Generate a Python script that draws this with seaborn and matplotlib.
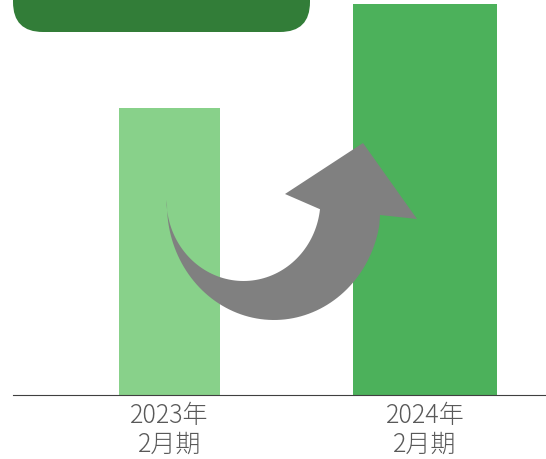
import numpy as np
import pandas as pd
import matplotlib
matplotlib.use("Agg")
import matplotlib.pyplot as plt
from matplotlib.path import Path
from matplotlib.patches import PathPatch, FancyBboxPatch
import seaborn as sns

# ---- data ----
categories = ["2023年\n2月期", "2024年\n2月期"]
values = [73.5, 100.0]

# ---- style ----
bar_colors = ["#88D18A", "#4CB15B"]
bar_widths = [0.395, 0.564]
box_color = "#327D38"
arrow_color = "#808080"
text_color = "#595959"

sns.set_theme(style="white")
plt.rcParams["font.family"] = ["Noto Sans CJK JP", "DejaVu Sans"]

W, H = 546, 459
fig = plt.figure(figsize=(W / 100, H / 100), dpi=100)
ax = fig.add_axes([0, 64 / H, 1, 395 / H])

df = pd.DataFrame({"period": categories, "value": values})
sns.barplot(data=df, x="period", y="value", hue="period", order=categories,
            hue_order=categories, palette=bar_colors, legend=False, ax=ax,
            saturation=1, linewidth=0)

for patch, w in zip(ax.patches, bar_widths):
    cx = patch.get_x() + patch.get_width() / 2
    patch.set_width(w)
    patch.set_x(cx - w / 2)

unit = 255.5
ax.set_xlim(-169.5 / unit, (W - 169.5) / unit)
ax.set_ylim(0, values[1] * 395 / 391)
ax.set_xlabel("")
ax.set_ylabel("")
ax.set_yticks([])
for s in ["top", "right", "left"]:
    ax.spines[s].set_visible(False)
ax.spines["bottom"].set_color("#404040")
ax.spines["bottom"].set_linewidth(0.8)
ax.spines["bottom"].set_bounds((13 - 169.5) / unit, (W - 169.5) / unit)
ax.tick_params(axis="x", length=0, pad=5.5, labelsize=18, labelcolor=text_color)
for t in ax.get_xticklabels():
    t.set_linespacing(1.12)
    t.set_fontweight("light")

# ---- overlay for decorations (pixel coordinates) ----
ov = fig.add_axes([0, 0, 1, 1])
ov.set_xlim(0, W)
ov.set_ylim(H, 0)
ov.axis("off")
ov.patch.set_alpha(0)

box = FancyBboxPatch((13, -60), 297, 92, boxstyle="round,pad=0,rounding_size=30",
                     facecolor=box_color, edgecolor="none")
ov.add_patch(box)

# curved arrow: elliptical inner/outer edges + triangular head
ocx, ocy, oa, ob = 274.0, 205.0, 107.0, 115.0
icx, icy, ia, ib = 243.5, 200.0, 77.0, 81.0
t_in = np.linspace(np.pi, np.arccos((320 - icx) / ia), 80)
inner = np.column_stack([icx + ia * np.cos(t_in), icy + ib * np.sin(t_in)])
head = np.array([(285, 194), (363, 143), (417, 219), (380, 215)])
t_out = np.linspace(np.arccos((380 - ocx) / oa), np.pi, 80)
outer = np.column_stack([ocx + oa * np.cos(t_out), ocy + ob * np.sin(t_out)])
verts = np.vstack([inner, head, outer[1:], inner[:1]])
codes = [Path.MOVETO] + [Path.LINETO] * (len(verts) - 2) + [Path.CLOSEPOLY]
ov.add_patch(PathPatch(Path(verts, codes), facecolor=arrow_color, edgecolor="none"))

fig.savefig("out.png", dpi=100)
